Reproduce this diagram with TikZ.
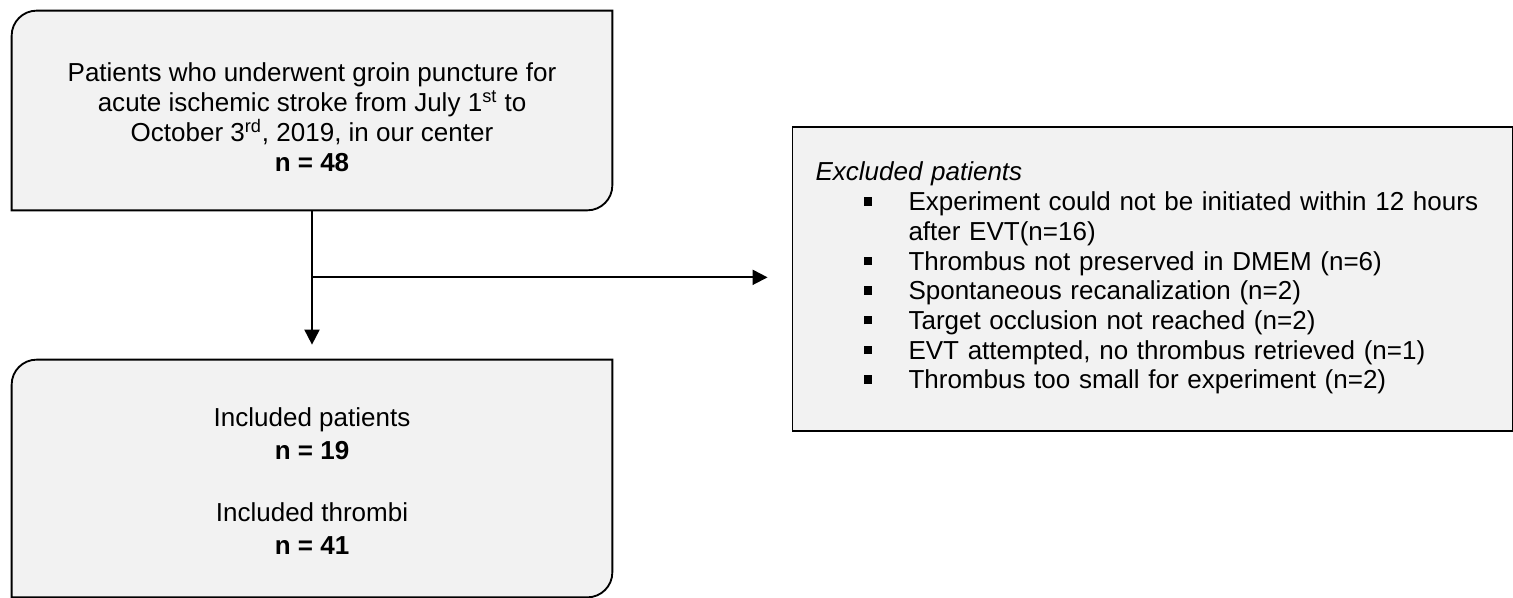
\documentclass[tikz,border=0pt]{standalone}
\usepackage{fontspec}
\setmainfont{Liberation Sans}
\usetikzlibrary{arrows.meta,positioning,calc}
\tikzset{
  boxline/.style={draw=black,fill=black!5,line width=1.05pt},
  flowblk/.style={rectangle,minimum width=12cm,inner sep=0pt},
  exclblk/.style={boxline,rectangle,minimum width=14.4cm,minimum height=6.08cm,text width=13.48cm,inner xsep=0.46cm,inner ysep=0pt,align=left,font=\fontsize{14.8}{16.9}\selectfont},
  txt/.style={align=center,inner sep=0pt,font=\fontsize{14.8}{17.07}\selectfont},
  arr/.style={-{Triangle[length=0.3cm,width=0.3cm]},line width=1.1pt}
}
% box with rounded top-left and bottom-right corners
\newcommand{\cornerbox}[1]{%
  \draw[boxline] ([yshift=-0.5cm]#1.north west) arc[start angle=180,end angle=90,radius=0.5cm]
    -- (#1.north east) -- ([yshift=0.5cm]#1.south east)
    arc[start angle=0,end angle=-90,radius=0.5cm] -- (#1.south west) -- cycle;}
\newcommand{\sqbul}{\rule[0.1cm]{0.16cm}{0.17cm}}

\begin{document}
\begin{tikzpicture}
  \useasboundingbox (0,0) rectangle (30.26,11.96);
  % Patients with groin puncture
  \node[flowblk, minimum height=3.98cm] (pop) at (6.24,9.75) {};
  \cornerbox{pop}
  \node[txt] (popTxt) at ($(pop.center)+(0,-0.14)$) {Patients who underwent groin puncture for\\
    acute ischemic stroke from July 1\textsuperscript{st} to\\
    October 3\textsuperscript{rd}, 2019, in our center\\
    \textbf{n = 48}};

  % Included patients and thrombi
  \node[flowblk, minimum height=4.74cm] (incl) at (6.24,2.39) {};
  \cornerbox{incl}
  \node[txt, font=\fontsize{14.8}{18.8}\selectfont] (inclTxt) at ($(incl.center)+(0,-0.06)$) {Included patients\\
    \textbf{n = 19}\\[16.5pt]
    Included thrombi\\
    \textbf{n = 41}};

  % Excluded patients
  \node[exclblk] (excl) at (23.05,6.38) {\noindent
    \begin{tabular}{@{}p{0.96cm}@{}p{0.9cm}@{}l@{}}
      \multicolumn{3}{@{}l@{}}{\itshape Excluded patients}\\
      & \sqbul & Experiment could not be initiated within 12 hours\\
      & & after EVT(n=16)\\
      & \sqbul & Thrombus not preserved in DMEM (n=6)\\
      & \sqbul & Spontaneous recanalization (n=2)\\
      & \sqbul & Target occlusion not reached (n=2)\\
      & \sqbul & EVT attempted, no thrombus retrieved (n=1)\\
      & \sqbul & Thrombus too small for experiment (n=2)
    \end{tabular}};

  % Connections
  \coordinate (split) at ($(pop.south)+(0,-1.34)$);
  \draw[arr] (pop.south) -- ([yshift=0.3cm]incl.north);
  \draw[arr] (split) -- ([xshift=-0.48cm]split -| excl.west);
\end{tikzpicture}
\end{document}
